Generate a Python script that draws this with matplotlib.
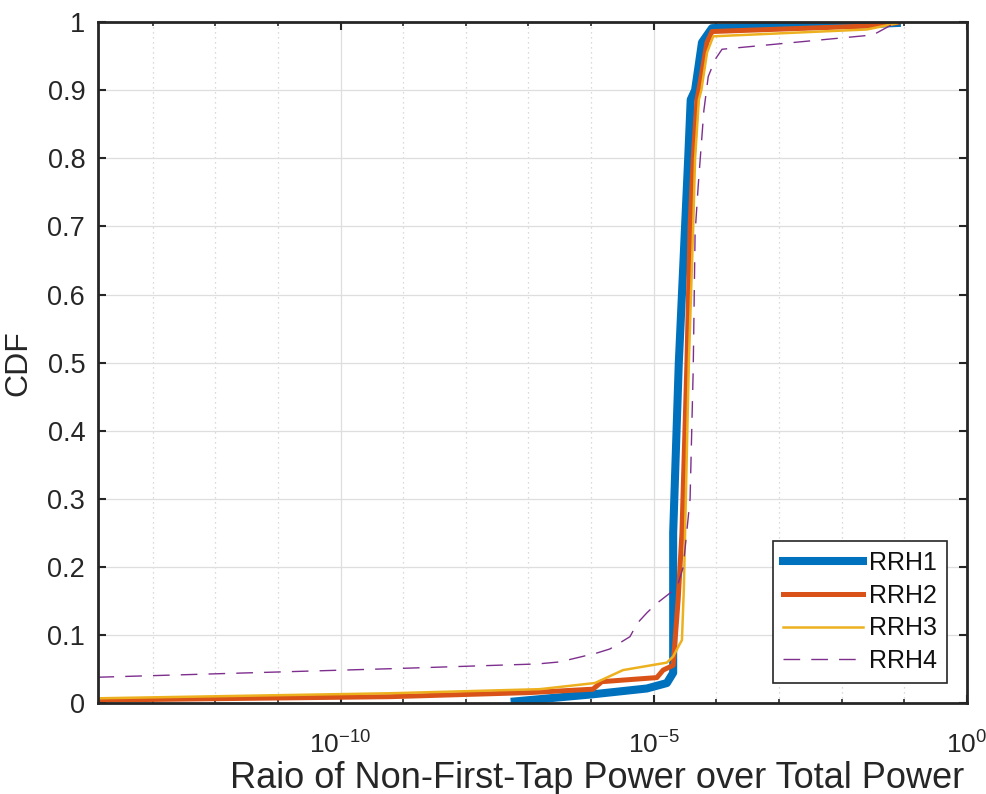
import numpy as np
import matplotlib
matplotlib.use("Agg")
import matplotlib.pyplot as plt
from matplotlib.ticker import FixedLocator, FuncFormatter

plt.rcParams['font.family'] = ['Liberation Sans', 'DejaVu Sans']
plt.rcParams['mathtext.fontset'] = 'custom'
plt.rcParams['mathtext.rm'] = 'Liberation Sans'

# CDF curves, x stored as log10 of the power ratio
rrh1_logx = [-7.22, -5.97, -5.11, -4.79, -4.69, -4.69, -4.60, -4.50, -4.45, -4.41, -4.34, -4.23, -4.07, -1.55, -1.12]
rrh1_cdf = [0.003, 0.0135, 0.022, 0.030, 0.045, 0.25, 0.50, 0.70, 0.80, 0.886, 0.90, 0.97, 0.991, 0.997, 0.9985]

rrh2_logx = [-13.88, -9.21, -6.98, -5.97, -5.83, -4.95, -4.85, -4.69, -4.61, -4.55, -4.47, -4.42, -4.37, -4.31, -4.28, -4.15, -4.07, -1.60, -1.12]
rrh2_cdf = [0.005, 0.010, 0.016, 0.021, 0.032, 0.038, 0.049, 0.056, 0.153, 0.25, 0.50, 0.70, 0.80, 0.886, 0.90, 0.97, 0.986, 0.994, 0.999]

rrh3_logx = [-13.88, -9.21, -6.82, -5.94, -5.75, -5.49, -4.79, -4.69, -4.61, -4.55, -4.52, -4.50, -4.44, -4.37, -4.34, -4.28, -4.24, -4.15, -4.05, -1.60, -1.12]
rrh3_cdf = [0.0076, 0.015, 0.021, 0.030, 0.038, 0.049, 0.060, 0.069, 0.083, 0.093, 0.167, 0.25, 0.50, 0.70, 0.80, 0.886, 0.90, 0.955, 0.979, 0.989, 0.998]

rrh4_logx = [-13.88, -9.21, -6.86, -6.50, -5.91, -5.70, -5.38, -5.26, -5.11, -4.95, -4.63, -4.53, -4.42, -4.37, -4.34, -4.29, -4.20, -4.13, -4.02, -3.91, -1.50, -1.12]
rrh4_cdf = [0.0385, 0.051, 0.058, 0.061, 0.074, 0.080, 0.098, 0.118, 0.133, 0.147, 0.17, 0.20, 0.30, 0.49, 0.69, 0.76, 0.87, 0.92, 0.945, 0.96, 0.981, 1.0]

labels = ['RRH1', 'RRH2', 'RRH3', 'RRH4']
yticks = np.arange(0, 1.01, 0.1)

fig = plt.figure(figsize=(9.87, 7.94), dpi=100)
ax = fig.add_axes([0.099, 0.114, 0.8807, 0.8583])

ax.plot(10 ** np.array(rrh1_logx), rrh1_cdf, color='#0072BD', lw=5.8, label=labels[0], solid_joinstyle='round')
ax.plot(10 ** np.array(rrh2_logx), rrh2_cdf, color='#D95319', lw=3.6, label=labels[1])
ax.plot(10 ** np.array(rrh3_logx), rrh3_cdf, color='#EDB120', lw=1.8, label=labels[2])
ax.plot(10 ** np.array(rrh4_logx), rrh4_cdf, color='#7E2F8E', lw=1.0, dashes=(12, 8), label=labels[3])

ax.set_xscale('log')
ax.set_xlim(10 ** -13.876, 1)
ax.set_ylim(0, 1)

ax.xaxis.set_major_locator(FixedLocator([1e-10, 1e-5, 1]))
ax.xaxis.set_minor_locator(FixedLocator([10.0 ** k for k in range(-13, 0)]))
ax.xaxis.set_major_formatter(FuncFormatter(lambda v, p: r'$\mathregular{10^{%d}}$' % round(np.log10(v))))
ax.xaxis.set_minor_formatter(FuncFormatter(lambda v, p: ''))
ax.set_yticks(yticks)
ax.yaxis.set_major_formatter(FuncFormatter(lambda v, p: f'{v:g}'))

ax.tick_params(which='both', direction='in', top=True, right=True, colors='#262626')
ax.tick_params(axis='y', labelsize=19.5, pad=9)
ax.tick_params(axis='x', labelsize=19, pad=20)
ax.tick_params(which='major', length=6, width=1.5)
ax.tick_params(which='minor', length=3, width=1.2)

ax.grid(True, which='major', color='#dedede', lw=0.9, ls='-')
ax.grid(True, which='minor', axis='x', color='#cfcfcf', lw=0.9, ls=(0, (1, 3)))
ax.set_axisbelow(True)
for s in ax.spines.values():
    s.set_color('#262626')
    s.set_linewidth(2)

ax.set_xlabel('Raio of Non-First-Tap Power over Total Power', fontsize=26, color='#262626', va='center')
ax.set_ylabel('CDF', fontsize=23, color='#262626')
ax.xaxis.set_label_coords(0.574, -0.11)
ax.yaxis.set_label_coords(-0.0745, 0.5)

leg = ax.legend(loc='lower right', bbox_to_anchor=(0.977, 0.03), borderaxespad=0,
                fontsize=18, handlelength=3.2, handletextpad=0.25, labelspacing=0.35,
                fancybox=False, framealpha=1, edgecolor='#262626', borderpad=0.4)
leg.get_frame().set_linewidth(1.2)
for t in leg.get_texts():
    t.set_color('#111111')

fig.savefig('out.png', dpi=100)
